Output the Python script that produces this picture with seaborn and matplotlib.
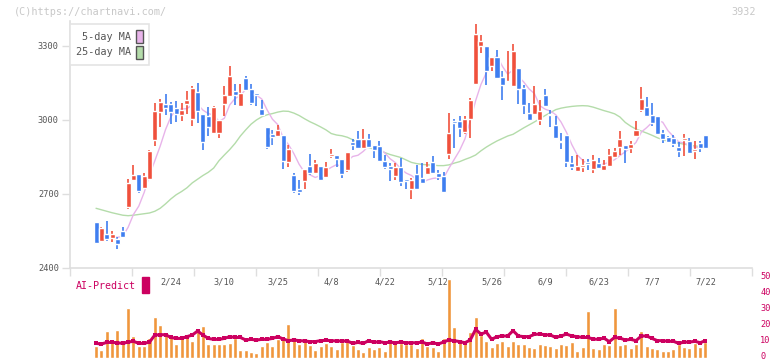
import numpy as np
import pandas as pd
import seaborn as sns
import matplotlib.pyplot as plt
import matplotlib.transforms as mtransforms
from matplotlib.patches import Patch, Rectangle

# candle data (index 0 = first slot on the left)
opens = [2545, 2586, 2511, 2539, 2523, 2518, 2550, 2649, 2757, 2781,
         2723, 2761, 2919, 3034, 3065, 3065, 3050, 3020, 3066, 3005,
         3113, 3023, 3016, 2949, 2946, 3066, 3099, 3118, 3058, 3170,
         3126, 3111, 3045, 2972, 2943, 2936, 2940, 2831, 2777, 2720,
         2754, 2814, 2786, 2814, 2770, 2855, 2858, 2841, 2797, 2911,
         2923, 2888, 2923, 2899, 2895, 2835, 2814, 2774, 2809, 2760,
         2719, 2781, 2764, 2781, 2830, 2786, 2773, 2861, 2996, 2996,
         2953, 3003, 3147, 3298, 3300, 3220, 3255, 3176, 3156, 3136,
         3212, 3131, 3028, 3024, 3001, 3101, 3024, 2980, 2916, 2939,
         2826, 2794, 2811, 2830, 2801, 2826, 2797, 2815, 2849, 2891,
         2899, 2886, 2935, 3040, 3052, 3020, 3016, 2947, 2931, 2927,
         2890, 2919, 2915, 2875, 2907, 2939]
closes = [2545, 2503, 2563, 2518, 2539, 2498, 2526, 2743, 2777, 2713,
          2773, 2874, 3036, 3073, 3050, 3032, 3023, 3042, 3081, 3130,
          3038, 2909, 2973, 3052, 3000, 3103, 3178, 3103, 3111, 3123,
          3070, 3100, 3022, 2892, 2932, 2959, 2835, 2882, 2713, 2709,
          2801, 2786, 2824, 2757, 2809, 2864, 2843, 2782, 2870, 2900,
          2888, 2923, 2892, 2878, 2835, 2809, 2803, 2809, 2750, 2754,
          2757, 2720, 2746, 2808, 2786, 2769, 2709, 2947, 2989, 2966,
          3004, 3081, 3349, 3322, 3200, 3255, 3172, 3142, 3160, 3281,
          3126, 3061, 3001, 3065, 3036, 3058, 3019, 2928, 2912, 2831,
          2811, 2814, 2818, 2823, 2838, 2807, 2818, 2858, 2874, 2923,
          2884, 2903, 2959, 3085, 3016, 2987, 2943, 2923, 2911, 2903,
          2875, 2925, 2867, 2882, 2886, 2888]
highs = [2545, 2588, 2568, 2591, 2550, 2527, 2567, 2761, 2818, 2781,
         2784, 2878, 3068, 3084, 3107, 3072, 3075, 3068, 3116, 3138,
         3150, 3023, 3051, 3058, 3000, 3138, 3219, 3146, 3146, 3178,
         3146, 3111, 3081, 2972, 2961, 2980, 2940, 2899, 2784, 2757,
         2801, 2862, 2838, 2814, 2830, 2882, 2858, 2841, 2870, 2923,
         2957, 2964, 2943, 2899, 2915, 2858, 2824, 2824, 2845, 2760,
         2764, 2818, 2824, 2831, 2854, 2798, 2790, 3028, 3004, 3017,
         3017, 3089, 3389, 3344, 3300, 3255, 3285, 3200, 3278, 3307,
         3212, 3142, 3070, 3138, 3081, 3126, 3040, 3016, 2946, 2939,
         2854, 2858, 2841, 2841, 2858, 2846, 2838, 2882, 2885, 2955,
         2899, 2915, 2996, 3134, 3095, 3070, 3016, 2959, 2935, 2939,
         2912, 2943, 2926, 2915, 2915, 2939]
lows = [2545, 2500, 2508, 2511, 2507, 2478, 2524, 2639, 2755, 2705,
        2720, 2758, 2896, 2973, 3020, 2985, 2993, 2997, 3026, 2976,
        2987, 2880, 2935, 2946, 2928, 3017, 3097, 3061, 3056, 3120,
        3062, 3057, 3020, 2881, 2899, 2934, 2803, 2811, 2703, 2696,
        2720, 2777, 2784, 2755, 2768, 2846, 2811, 2764, 2789, 2878,
        2885, 2886, 2890, 2847, 2833, 2800, 2751, 2757, 2734, 2720,
        2681, 2718, 2744, 2779, 2784, 2757, 2707, 2843, 2885, 2932,
        2945, 2928, 3145, 3273, 3142, 3200, 3170, 3081, 3154, 3134,
        3063, 3024, 2999, 3022, 2980, 3056, 2973, 2926, 2881, 2811,
        2797, 2792, 2790, 2797, 2786, 2805, 2795, 2813, 2847, 2858,
        2827, 2867, 2933, 3034, 3014, 2976, 2939, 2908, 2909, 2892,
        2851, 2854, 2865, 2843, 2872, 2886]

ma5 = [np.nan, 2541, 2535, 2532, 2530, 2524, 2529, 2565, 2617, 2651,
       2706, 2776, 2835, 2894, 2961, 3013, 3043, 3044, 3046, 3062,
       3063, 3040, 3026, 3020, 2994, 3007, 3061, 3087, 3099, 3124,
       3117, 3101, 3085, 3041, 3003, 2981, 2928, 2900, 2864, 2820,
       2788, 2778, 2767, 2775, 2795, 2808, 2819, 2811, 2834, 2852,
       2857, 2873, 2895, 2896, 2883, 2867, 2843, 2827, 2801, 2785,
       2775, 2758, 2745, 2757, 2763, 2766, 2764, 2804, 2840, 2876,
       2923, 2997, 3078, 3144, 3191, 3241, 3260, 3218, 3186, 3202,
       3176, 3154, 3126, 3107, 3058, 3044, 3036, 3021, 2991, 2950,
       2900, 2859, 2837, 2819, 2821, 2820, 2821, 2829, 2839, 2856,
       2871, 2888, 2909, 2951, 2969, 2990, 2998, 2991, 2956, 2933,
       2911, 2907, 2896, 2890, 2887, 2890]
ma25 = [np.nan, 2642, 2636, 2630, 2624, 2619, 2614, 2612, 2614, 2617,
        2620, 2623, 2630, 2642, 2660, 2680, 2697, 2710, 2725, 2745,
        2760, 2775, 2788, 2805, 2835, 2858, 2880, 2905, 2935, 2960,
        2983, 3000, 3013, 3021, 3026, 3032, 3036, 3035, 3028, 3018,
        3005, 2993, 2983, 2972, 2960, 2945, 2939, 2936, 2930, 2920,
        2908, 2895, 2888, 2882, 2876, 2868, 2860, 2854, 2848, 2838,
        2828, 2823, 2820, 2818, 2817, 2815, 2815, 2818, 2825, 2831,
        2840, 2848, 2858, 2875, 2890, 2903, 2915, 2925, 2935, 2942,
        2955, 2968, 2980, 2992, 3005, 3018, 3030, 3042, 3048, 3052,
        3055, 3057, 3058, 3057, 3052, 3045, 3038, 3032, 3025, 3012,
        2990, 2975, 2963, 2955, 2947, 2938, 2928, 2920, 2914, 2910,
        2906, 2902, 2898, 2895, 2892, 2890]

volume = [np.nan, 7.5, 5.0, 16.8, 9.7, 17.4, 10.6, 31.0, 13.7, 7.7,
          7.7, 12.6, 25.5, 20.7, 16.1, 13.9, 8.7, 12.2, 13.3, 10.8,
          17.4, 19.9, 8.7, 8.7, 8.7, 8.7, 9.5, 12.4, 5.0, 5.0,
          3.5, 2.9, 7.5, 9.9, 7.5, 11.8, 11.8, 21.3, 11.4, 8.7,
          12.4, 8.1, 5.0, 7.5, 9.3, 7.5, 5.6, 9.9, 11.8, 8.1,
          5.6, 3.7, 6.8, 5.6, 6.8, 4.3, 11.2, 10.0, 9.5, 8.7,
          8.7, 6.2, 12.4, 7.5, 6.8, 4.3, 12.4, 49.0, 19.3, 11.8,
          11.4, 16.1, 25.5, 14.3, 10.6, 6.8, 9.3, 10.6, 7.5, 10.6,
          8.7, 8.7, 6.8, 6.2, 8.7, 8.1, 7.5, 6.2, 8.7, 8.1,
          9.9, 4.3, 6.8, 29.2, 6.2, 5.6, 8.7, 8.1, 31.0, 8.1,
          8.7, 6.2, 8.7, 16.8, 7.5, 6.2, 5.6, 4.3, 4.3, 5.6,
          8.7, 6.8, 6.2, 9.3, 6.8, 9.9]
ai_predict = [np.nan, 9.1, 8.7, 9.7, 9.7, 9.5, 9.1, 9.9, 10.4, 9.1,
              9.1, 9.9, 14.3, 14.5, 14.5, 12.8, 12.2, 12.2, 13.3, 14.3,
              16.8, 14.3, 12.2, 11.6, 11.6, 12.2, 13.3, 12.8, 12.8, 11.2,
              11.6, 11.2, 11.6, 11.6, 12.2, 13.3, 11.8, 10.8, 11.2, 10.8,
              10.6, 10.2, 10.2, 10.8, 11.0, 10.8, 10.6, 10.6, 10.6, 9.1,
              9.7, 9.1, 10.8, 9.7, 10.2, 9.5, 9.9, 9.5, 9.9, 9.5,
              9.5, 9.5, 9.9, 8.7, 9.5, 8.7, 9.9, 11.2, 10.8, 10.2,
              9.5, 11.2, 17.8, 14.9, 16.1, 11.6, 13.3, 13.7, 13.7, 17.0,
              13.7, 13.3, 13.3, 14.7, 14.9, 14.5, 14.3, 12.8, 13.7, 14.9,
              13.7, 13.3, 12.8, 12.8, 11.8, 11.6, 12.4, 10.2, 12.8, 12.4,
              11.2, 11.6, 10.8, 13.7, 13.7, 12.2, 10.8, 10.8, 10.4, 10.4,
              9.1, 9.9, 9.9, 10.4, 9.5, 10.8]

date_labels = ["2/24", "3/10", "3/25", "4/8", "4/22", "5/12",
               "5/26", "6/9", "6/23", "7/7", "7/22"]
label_pos = [15, 25, 35, 45, 55, 65, 75, 85, 95, 105, 115]

df = pd.DataFrame({"day": np.arange(len(closes)), "open": opens, "close": closes,
                   "high": highs, "low": lows, "ma5": ma5, "ma25": ma25,
                   "volume": volume, "ai": ai_predict})

RED = "#f0503c"
BLUE = "#3f7ef0"
PINK = "#e8b4ea"
GREEN = "#b4dcaa"
ORANGE = "#f0963c"
CRIMSON = "#cc0060"
GRID = "#dedede"
TXT = "#555555"
MONO = "DejaVu Sans Mono"

sns.set_style("white")
plt.rcParams["font.family"] = [MONO, "DejaVu Sans"]

fig = plt.figure(figsize=(7.72, 3.61), dpi=100)
x0, x1 = -3.87, 123.7
ax = fig.add_axes([70 / 772, 1 - 268 / 361, 682 / 772, 246.7 / 361])
axv = fig.add_axes([70 / 772, 1 - 358 / 361, 682 / 772, 80.3 / 361])

# moving averages
sns.lineplot(data=df, x="day", y="ma25", ax=ax, color=GREEN, lw=1, zorder=1)
sns.lineplot(data=df, x="day", y="ma5", ax=ax, color=PINK, lw=1, zorder=1)

# candles
up = df["close"] >= df["open"]
colors = np.where(up, RED, BLUE)
body_lo = df[["open", "close"]].min(axis=1)
body_h = (df["close"] - df["open"]).abs().clip(lower=4)
ax.vlines(df["day"], df["low"], df["high"], colors=colors, lw=1.2, zorder=2)
ax.bar(df["day"], body_h, bottom=body_lo, width=0.94, color=colors, zorder=3)

ax.set_xlim(x0, x1)
ax.set_ylim(2400, 3400)
ax.set_yticks([2400, 2700, 3000, 3300])
ax.set_xticks(np.linspace(x0, x1, 12))
ax.set_xticklabels([])
ax.set_xlabel("")
ax.set_ylabel("")
ax.tick_params(axis="y", length=6, width=1, color=GRID, labelsize=6.2,
               labelcolor=TXT, pad=2, direction="out", left=True)
ax.tick_params(axis="x", length=6, width=1, color=GRID, direction="out", bottom=True)
for s in ["top", "right"]:
    ax.spines[s].set_visible(False)
for s in ["left", "bottom"]:
    ax.spines[s].set_color(GRID)
    ax.spines[s].set_linewidth(1.2)
for p, lab in zip(label_pos, date_labels):
    ax.text(p, -0.055, lab, transform=ax.get_xaxis_transform(), ha="center",
            va="center", fontsize=6.2, color=TXT)

handles = [Patch(facecolor=PINK, edgecolor="#555555", lw=1),
           Patch(facecolor=GREEN, edgecolor="#555555", lw=1)]
leg = ax.legend(handles, ["5-day MA", "25-day MA"], loc="upper left",
                bbox_to_anchor=(70 / 772, 1 - 24 / 361), bbox_transform=fig.transFigure,
                borderaxespad=0, markerfirst=False, fancybox=False, fontsize=7.3,
                handlelength=0.7, handleheight=1.6, handletextpad=0.5,
                labelspacing=0.25, borderpad=0.6, framealpha=1)
leg.get_frame().set_edgecolor("#e4e4e4")
leg.get_frame().set_linewidth(1.2)
for t in leg.get_texts():
    t.set_color(TXT)

# volume panel
axv.bar(df["day"], df["volume"], width=0.75, color=ORANGE, zorder=1)
sns.lineplot(data=df, x="day", y="ai", ax=axv, color=CRIMSON, lw=2.2,
             marker="s", markersize=2.5, markeredgewidth=0, zorder=2)
axv.set_xlim(x0, x1)
axv.set_ylim(0, 50)
axv.set_xlabel("")
axv.set_ylabel("")
axv.set_xticks([])
axv.yaxis.tick_right()
axv.set_yticks([0, 10, 20, 30, 40, 50])
axv.tick_params(axis="y", length=0, labelsize=6.2, labelcolor=CRIMSON, pad=6)
shift_up = mtransforms.ScaledTranslation(0, 2.5 / 100, fig.dpi_scale_trans)
for lbl in axv.get_yticklabels():
    lbl.set_transform(lbl.get_transform() + shift_up)
for s in axv.spines.values():
    s.set_visible(False)
axv.patch.set_alpha(0)

fig.text(76 / 772, 1 - 286 / 361, "AI-Predict", color=CRIMSON, fontsize=7.2,
         ha="left", va="center")
fig.patches.append(Rectangle((142 / 772, 1 - 293 / 361), 7 / 772, 16 / 361,
                             transform=fig.transFigure, color=CRIMSON))

fig.text(14 / 772, 1 - 12 / 361, "(C)https://chartnavi.com/", color="#c8c8c8",
         fontsize=7.3, ha="left", va="center")
fig.text(756 / 772, 1 - 12 / 361, "3932", color="#c8c8c8", fontsize=7.3,
         ha="right", va="center")

fig.savefig("out.png", dpi=100)
